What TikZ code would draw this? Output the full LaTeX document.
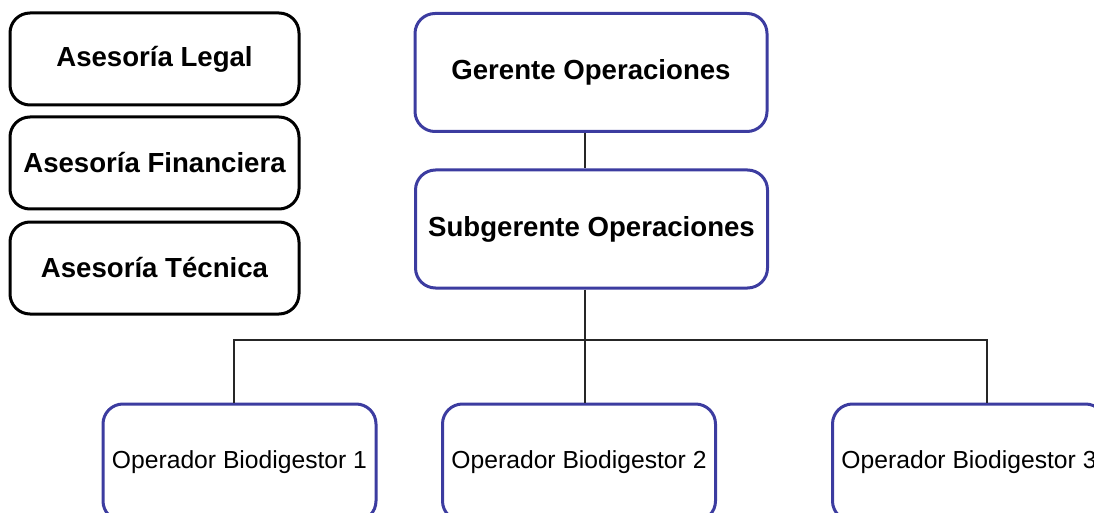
\documentclass[tikz,border=0pt]{standalone}
\usepackage{fontspec}
\setmainfont{Liberation Sans}
\definecolor{azul}{RGB}{60,60,160}
\begin{document}
\begin{tikzpicture}[x=0.75pt,y=-0.75pt,
  caja/.style={draw, rounded corners=15pt, line width=2.25pt, align=center, inner sep=0pt},
  asesor/.style={caja, draw=black, minimum width=216.75pt, minimum height=69pt, font=\fontsize{20.7}{25}\selectfont\bfseries},
  jefe/.style={caja, draw=azul, minimum width=264pt, minimum height=88.5pt, font=\fontsize{20.7}{25}\selectfont\bfseries},
  operador/.style={caja, draw=azul, minimum width=204.75pt, minimum height=87.75pt, font=\fontsize{18.5}{22}\selectfont},
  linea/.style={draw=black!85, line width=1.5pt}]
\path[use as bounding box, clip] (0,0) rectangle (1094,513);
\node[asesor] (legal) at (154.5,59) {Asesoría Legal};
\node[asesor] (finan) at (154.5,163) {Asesoría Financiera};
\node[asesor] (tecni) at (154.5,268) {Asesoría Técnica};
\node[jefe] (gerente) at (591,72.5) {Gerente Operaciones};
\node[jefe] (subger) at (591.5,229) {Subgerente Operaciones};
\node[operador] (op1) at (239.5,462.5) {Operador Biodigestor 1};
\node[operador] (op2) at (579,462.5) {Operador Biodigestor 2};
\node[operador] (op3) at (969,462.5) {Operador Biodigestor 3};
\coordinate (eje) at (585,340);
\coordinate (bajada1) at (234,340);
\coordinate (bajada3) at (987,340);
\draw[linea] (gerente.south -| eje) -- (subger.north -| eje);
\draw[linea] (subger.south -| eje) -- (eje) -- (op2.north -| eje);
\draw[linea] (op1.north -| bajada1) -- (bajada1) -- (bajada3) -- (op3.north -| bajada3);
\end{tikzpicture}
\end{document}
